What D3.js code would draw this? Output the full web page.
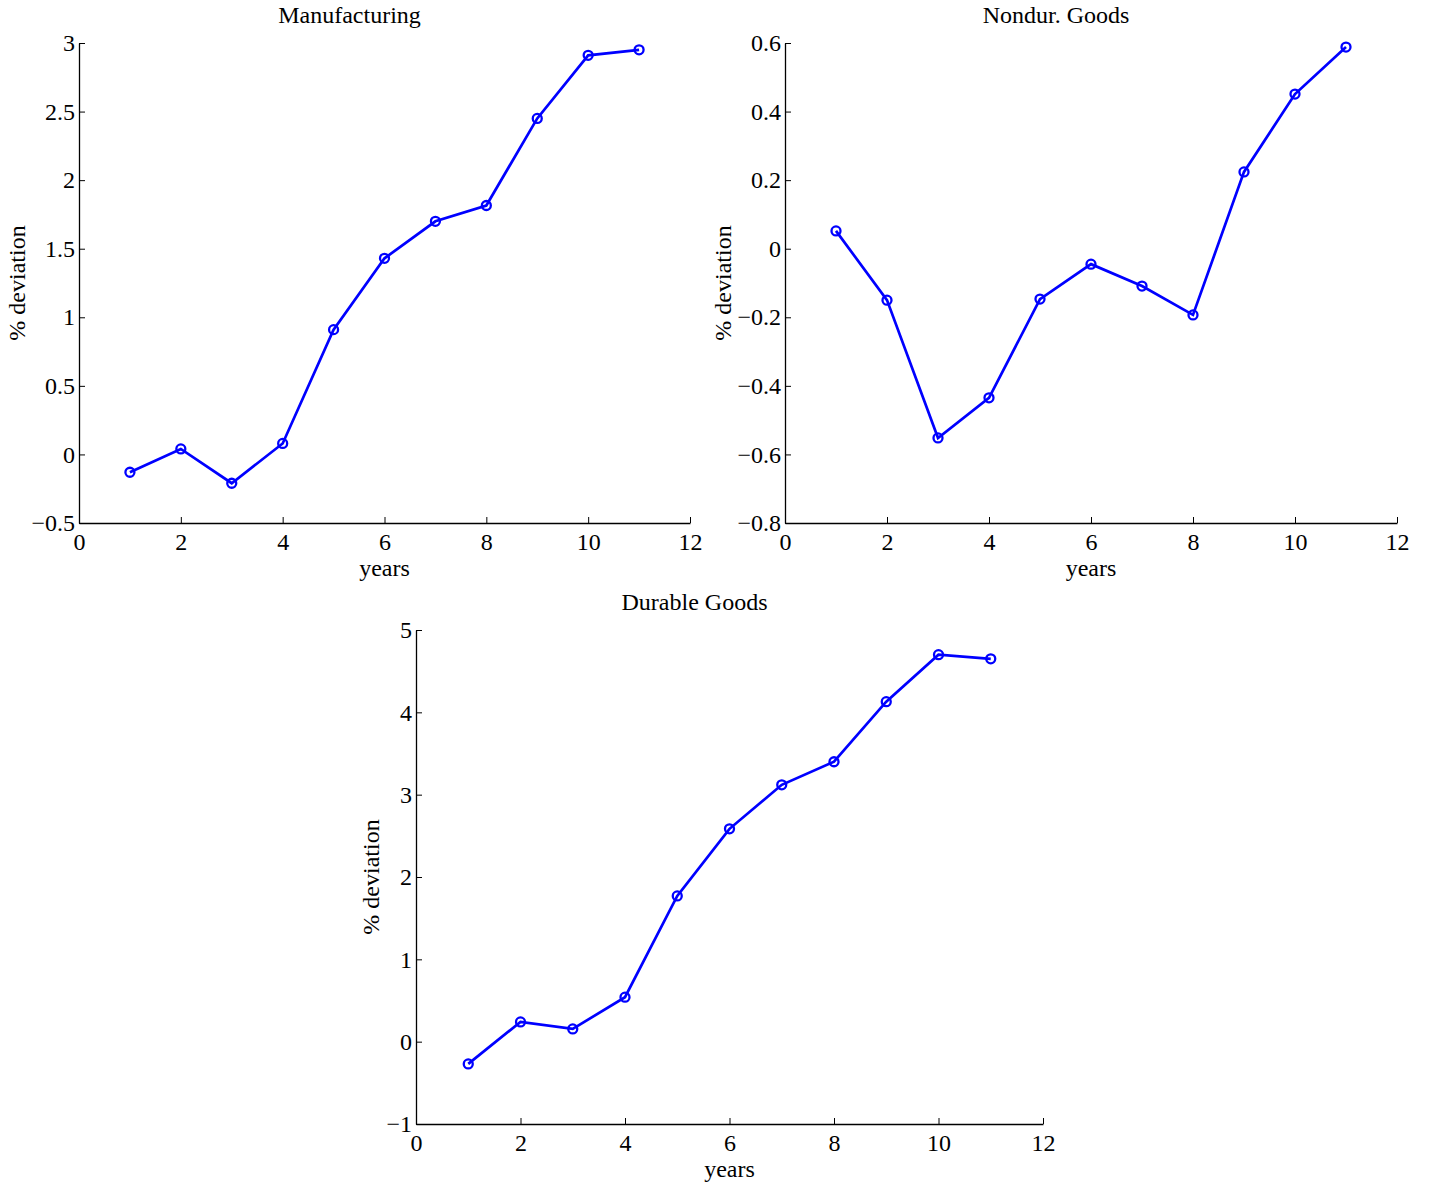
<!DOCTYPE html>
<html><head><meta charset="utf-8">
<script src="https://cdn.jsdelivr.net/npm/d3@7"></script>
<style>body{margin:0;background:#fff}svg{display:block}svg text{font-family:"Liberation Serif","Times New Roman",serif !important;fill:#000}</style>
</head><body>
<script>
const years = [1,2,3,4,5,6,7,8,9,10,11];
const manufacturing = [-0.13,0.04,-0.21,0.08,0.91,1.43,1.70,1.815,2.45,2.91,2.95];
const nondurGoods = [0.052,-0.15,-0.552,-0.435,-0.147,-0.045,-0.109,-0.193,0.224,0.451,0.588];
const durableGoods = [-0.27,0.24,0.155,0.54,1.77,2.585,3.12,3.40,4.13,4.70,4.65];
const titles = ["Manufacturing","Nondur. Goods","Durable Goods"];
const xTicks = [0,2,4,6,8,10,12];
const yTicksManuf = [-0.5,0,0.5,1,1.5,2,2.5,3];
const yTicksNondur = [-0.8,-0.6,-0.4,-0.2,0,0.2,0.4,0.6];
const yTicksDurable = [-1,0,1,2,3,4,5];

const W=1429,H=1184,FS=24;
const svg=d3.select("body").append("svg").attr("width",W).attr("height",H);

const panels=[
 {title:titles[0],vals:manufacturing,yt:yTicksManuf,box:[79,690,43,523],lab:62},
 {title:titles[1],vals:nondurGoods,yt:yTicksNondur,box:[785,1397,43,523],lab:62},
 {title:titles[2],vals:durableGoods,yt:yTicksDurable,box:[416,1043,630,1124],lab:45}
];
const fmt=v=>String(v).replace("-","\u2212");

panels.forEach(p=>{
 const [x0,x1,y0,y1]=p.box;
 const x=d3.scaleLinear().domain([0,12]).range([x0,x1]);
 const y=d3.scaleLinear().domain([p.yt[0],p.yt[p.yt.length-1]]).range([y1,y0]);
 const g=svg.append("g");
 const xa=g.append("g").attr("transform",`translate(0,${y1})`)
   .call(d3.axisBottom(x).tickValues(xTicks).tickSizeInner(-6).tickSizeOuter(0).tickPadding(12).tickFormat(fmt));
 const ya=g.append("g").attr("transform",`translate(${x0},0)`)
   .call(d3.axisLeft(y).tickValues(p.yt).tickSizeInner(-6).tickSizeOuter(0).tickPadding(5).tickFormat(fmt));
 [xa,ya].forEach(a=>{
   a.attr("font-family","Liberation Serif").attr("font-size",FS);
   a.select(".domain").attr("stroke","#000").attr("stroke-width",1.3);
   a.selectAll(".tick line").attr("stroke","#000").attr("stroke-width",1);
   a.selectAll("text").attr("font-size",FS).attr("fill","#000");
 });
 xa.selectAll("text").attr("dy","0.35em").attr("y",19);
 ya.selectAll("text").attr("x",-4);
 g.append("text").attr("x",(x0+x1)/2-35).attr("y",y0-20).attr("text-anchor","middle").attr("font-size",FS).text(p.title);
 g.append("text").attr("x",(x0+x1)/2).attr("y",y1+53).attr("text-anchor","middle").attr("font-size",FS).text("years");
 g.append("text").attr("transform",`translate(${x0-p.lab+8},${(y0+y1)/2}) rotate(-90)`).attr("text-anchor","middle").attr("font-size",FS).text("% deviation");
 const pts=years.map((d,i)=>[d,p.vals[i]]);
 g.append("path").datum(pts).attr("fill","none").attr("stroke","#0000ff").attr("stroke-width",2.7)
   .attr("d",d3.line().x(d=>x(d[0])).y(d=>y(d[1])));
 g.selectAll("circle.m").data(pts).enter().append("circle").attr("class","m")
   .attr("cx",d=>x(d[0])).attr("cy",d=>y(d[1])).attr("r",4.5)
   .attr("fill","none").attr("stroke","#0000ff").attr("stroke-width",2.3);
});
</script>
</body></html>
